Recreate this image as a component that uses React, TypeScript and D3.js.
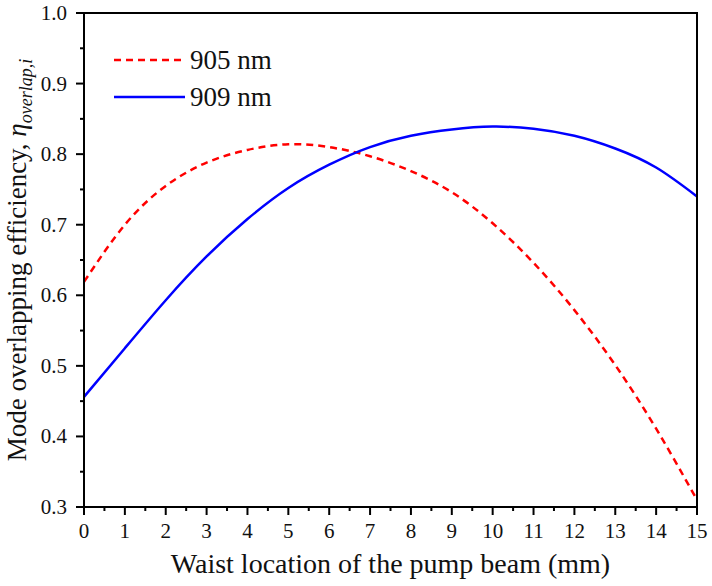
import React, { useEffect, useRef } from 'react';
import * as d3 from 'd3';

// waist location (mm)
const xs = [0, 1, 2, 3, 4, 5, 6, 7, 8, 9, 10, 11, 12, 13, 14, 15];
// mode overlapping efficiency, 905 nm (dashed red)
const eff905 = [0.619, 0.700, 0.755, 0.788, 0.806, 0.814, 0.810, 0.797, 0.776, 0.746, 0.702, 0.646, 0.579, 0.501, 0.411, 0.310];
// mode overlapping efficiency, 909 nm (solid blue)
const eff909 = [0.456, 0.525, 0.593, 0.655, 0.708, 0.752, 0.785, 0.810, 0.826, 0.835, 0.839, 0.836, 0.826, 0.808, 0.781, 0.740];

const xTicks = d3.range(0, 16, 1);
const yTicks = [0.3, 0.4, 0.5, 0.6, 0.7, 0.8, 0.9, 1.0];
const legendNames = ['905 nm', '909 nm'];

export default function App() {
  const ref = useRef<SVGSVGElement | null>(null);

  useEffect(() => {
    if (!ref.current) return;
    document.body.style.margin = '0';
    const svg = d3.select(ref.current);
    svg.selectAll('*').remove();

    const left = 84, right = 697, top = 13, bottom = 507;
    const font = '"Liberation Serif", "Times New Roman", serif';

    const x = d3.scaleLinear().domain([0, 15]).range([left, right]);
    const y = d3.scaleLinear().domain([0.3, 1.0]).range([bottom, top]);

    // minor ticks
    const g = svg.append('g');
    d3.range(0.5, 15, 1).forEach(v => {
      g.append('line').attr('x1', x(v)).attr('x2', x(v)).attr('y1', bottom).attr('y2', bottom + 4)
        .attr('stroke', '#000').attr('stroke-width', 2);
    });
    d3.range(0.35, 1.0, 0.1).forEach(v => {
      g.append('line').attr('x1', left - 4).attr('x2', left).attr('y1', y(v)).attr('y2', y(v))
        .attr('stroke', '#000').attr('stroke-width', 2);
    });

    // major ticks + labels
    xTicks.forEach(v => {
      g.append('line').attr('x1', x(v)).attr('x2', x(v)).attr('y1', bottom).attr('y2', bottom + 8)
        .attr('stroke', '#000').attr('stroke-width', 2);
      g.append('text').attr('x', x(v)).attr('y', bottom + 31).attr('text-anchor', 'middle')
        .style('font-family', font).style('font-size', '21px').attr('fill', '#111').text(String(v));
    });
    yTicks.forEach(v => {
      g.append('line').attr('x1', left - 8).attr('x2', left).attr('y1', y(v)).attr('y2', y(v))
        .attr('stroke', '#000').attr('stroke-width', 2);
      g.append('text').attr('x', left - 17).attr('y', y(v) + 7).attr('text-anchor', 'end')
        .style('font-family', font).style('font-size', '21px').attr('fill', '#111').text(v.toFixed(1));
    });

    const line = d3.line<number>()
      .x((_, i) => x(xs[i]))
      .y(d => y(d))
      .curve(d3.curveNatural);

    svg.append('path').datum(eff905).attr('d', line).attr('fill', 'none')
      .attr('stroke', '#ff0000').attr('stroke-width', 2.5).attr('stroke-dasharray', '7,5');
    svg.append('path').datum(eff909).attr('d', line).attr('fill', 'none')
      .attr('stroke', '#0000ff').attr('stroke-width', 2.5);

    // frame
    svg.append('rect').attr('x', left).attr('y', top).attr('width', right - left).attr('height', bottom - top)
      .attr('fill', 'none').attr('stroke', '#000').attr('stroke-width', 2);

    // legend
    const legColors = ['#ff0000', '#0000ff'];
    const legDash = ['7,5', null];
    legendNames.forEach((name, i) => {
      const ly = 60 + i * 37;
      svg.append('line').attr('x1', 114).attr('x2', 185).attr('y1', ly).attr('y2', ly)
        .attr('stroke', legColors[i]).attr('stroke-width', 2.5)
        .attr('stroke-dasharray', legDash[i]);
      svg.append('text').attr('x', 190).attr('y', ly + 9)
        .style('font-family', font).style('font-size', '27px').attr('fill', '#111').text(name);
    });

    // x title
    svg.append('text').attr('x', (left + right) / 2).attr('y', 573).attr('text-anchor', 'middle')
      .style('font-family', font).style('font-size', '28px').attr('fill', '#111')
      .text('Waist location of the pump beam (mm)');

    // y title
    const yt = svg.append('text').attr('transform', `translate(26,${(top + bottom) / 2}) rotate(-90)`)
      .attr('text-anchor', 'middle')
      .style('font-family', font).style('font-size', '27px').attr('fill', '#111');
    yt.append('tspan').text('Mode overlapping efficiency,  ');
    yt.append('tspan').style('font-style', 'italic').text('η');
    yt.append('tspan').style('font-style', 'italic').style('font-size', '18px').attr('dy', 6).text('overlap,i');
  }, []);

  return <svg ref={ref} width={712} height={586} style={{ display: 'block', background: '#fff' }} />;
}
